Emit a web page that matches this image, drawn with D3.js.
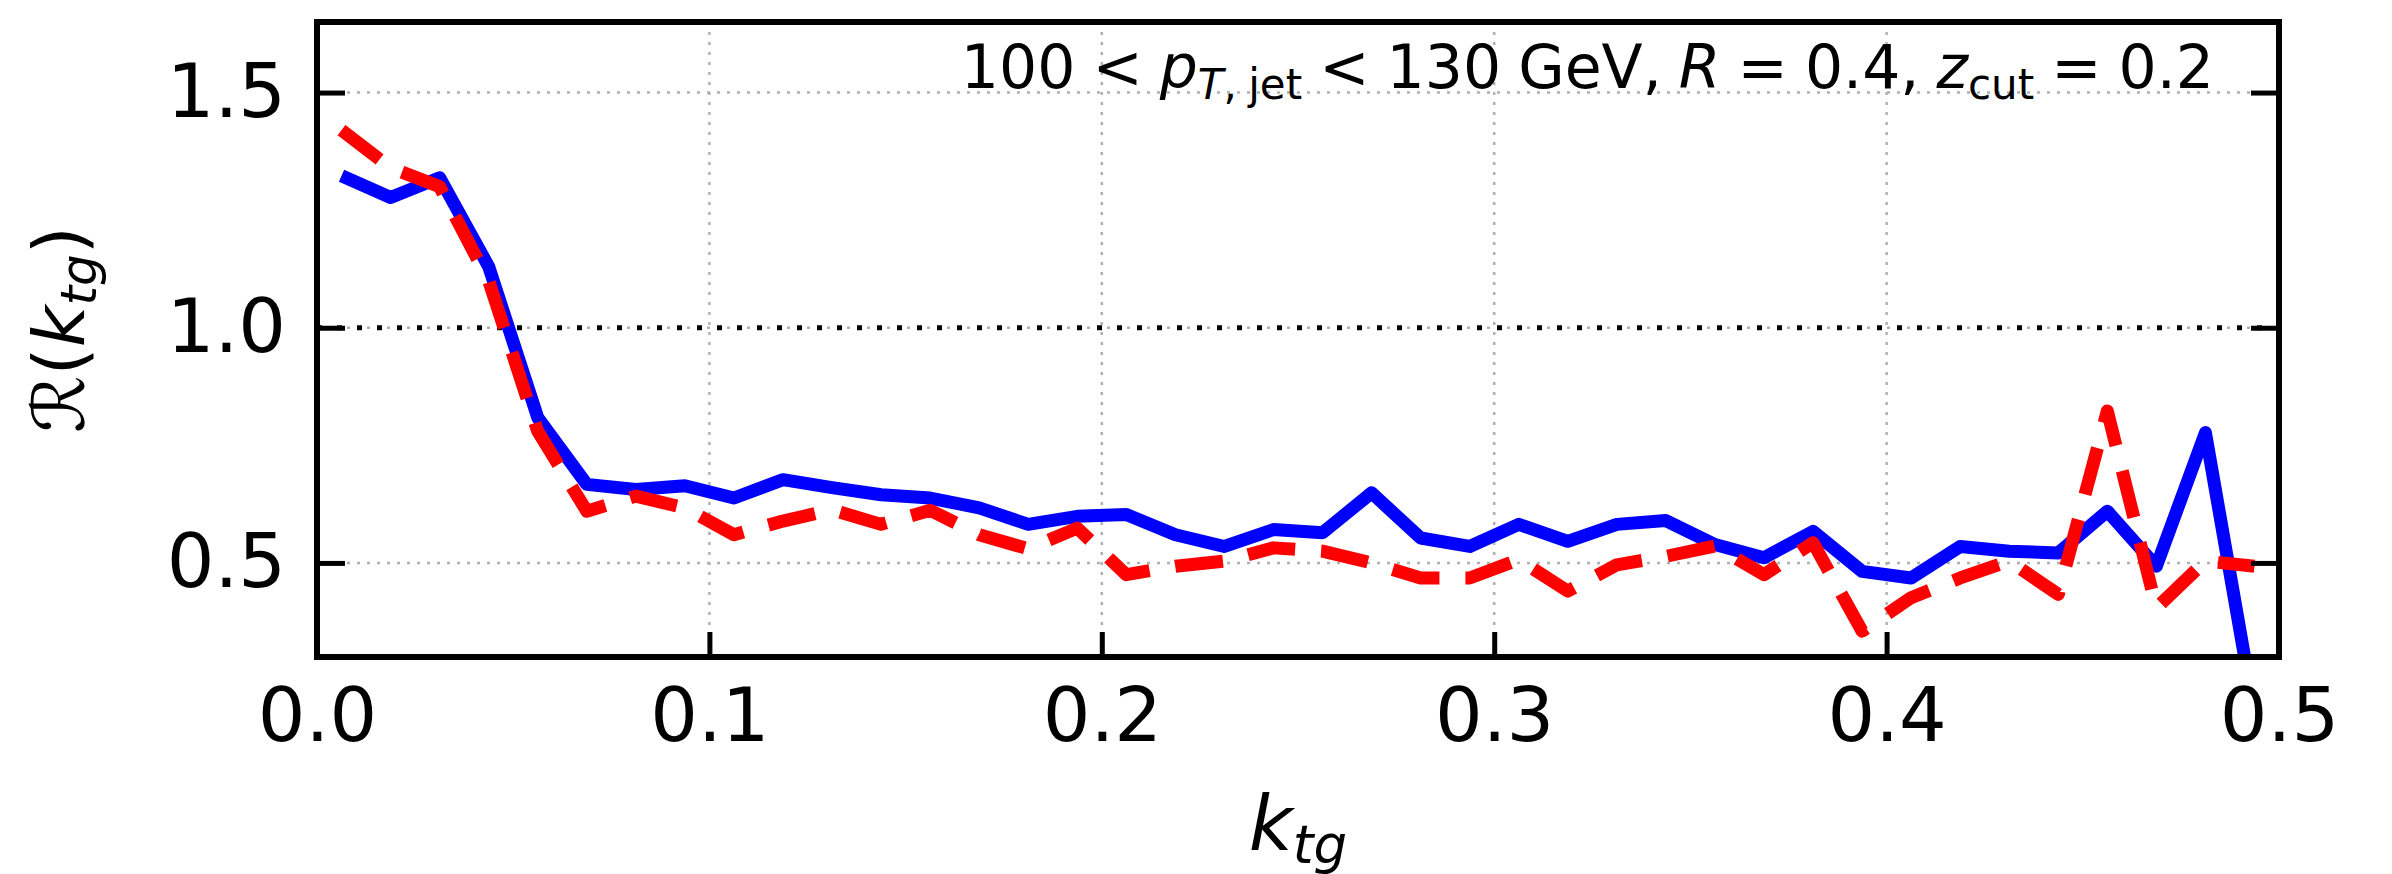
<!DOCTYPE html>
<html>
<head>
<meta charset="utf-8">
<script src="https://cdn.jsdelivr.net/npm/d3@7"></script>
<style>
  body { margin: 0; background: #fff; }
  text { font-family: "DejaVu Sans", sans-serif; fill: #000; }
</style>
</head>
<body>
<div id="chart-area"></div>
<script>
// bin centres of k_tg
const binCenters = [
  0.00625, 0.01875, 0.03125, 0.04375, 0.05625, 0.06875, 0.08125, 0.09375,
  0.10625, 0.11875, 0.13125, 0.14375, 0.15625, 0.16875, 0.18125, 0.19375,
  0.20625, 0.21875, 0.23125, 0.24375, 0.25625, 0.26875, 0.28125, 0.29375,
  0.30625, 0.31875, 0.33125, 0.34375, 0.35625, 0.36875, 0.38125, 0.39375,
  0.40625, 0.41875, 0.43125, 0.44375, 0.45625, 0.46875, 0.48125, 0.49375
];

// blue solid curve
const blueValues = [
  1.323, 1.277, 1.319, 1.13, 0.809, 0.667, 0.656, 0.664,
  0.638, 0.677, 0.660, 0.645, 0.638, 0.617, 0.582, 0.599,
  0.603, 0.560, 0.535, 0.571, 0.564, 0.649, 0.553, 0.535,
  0.582, 0.546, 0.582, 0.590, 0.539, 0.511, 0.567, 0.482,
  0.468, 0.535, 0.525, 0.521, 0.610, 0.493, 0.777, 0.18
];

// red dashed curve
const redValues = [
  1.42, 1.34, 1.30, 1.10, 0.78, 0.61, 0.642, 0.617,
  0.560, 0.589, 0.613, 0.582, 0.612, 0.560, 0.530, 0.574,
  0.475, 0.493, 0.504, 0.532, 0.525, 0.500, 0.468, 0.468,
  0.507, 0.440, 0.496, 0.514, 0.536, 0.475, 0.543, 0.355,
  0.426, 0.468, 0.504, 0.433, 0.823, 0.404, 0.504, 0.493
];

const xTicks = [0.0, 0.1, 0.2, 0.3, 0.4, 0.5];
const yTicks = [0.5, 1.0, 1.5];
const xDomain = [0, 0.5];
const yDomain = [0.3, 1.65];

let margin = { top: 22, right: 113, bottom: 217, left: 317 };
let width = 2392 - margin.left - margin.right,
  height = 874 - margin.top - margin.bottom;

let svg = d3
  .select("#chart-area")
  .append("svg")
  .attr("width", 2392)
  .attr("height", 874)
  .append("g")
  .attr("transform", "translate(" + margin.left + "," + margin.top + ")");

let x = d3.scaleLinear().domain(xDomain).range([0, width]);
let y = d3.scaleLinear().domain(yDomain).range([height, 0]);

svg.append("clipPath").attr("id", "plot-clip")
  .append("rect").attr("width", width).attr("height", height);

// grid
svg.append("g")
  .selectAll("line")
  .data(xTicks.slice(1, -1))
  .enter()
  .append("line")
  .attr("x1", d => x(d)).attr("x2", d => x(d))
  .attr("y1", 0).attr("y2", height)
  .attr("stroke", "#b0b0b0").attr("stroke-width", 2.5)
  .attr("stroke-dasharray", "3,7");

svg.append("g")
  .selectAll("line")
  .data(yTicks)
  .enter()
  .append("line")
  .attr("x1", 0).attr("x2", width)
  .attr("y1", d => y(d)).attr("y2", d => y(d))
  .attr("stroke", "#b0b0b0").attr("stroke-width", 2.5)
  .attr("stroke-dasharray", "3,7");

// unity reference
svg.append("line")
  .attr("x1", 0).attr("x2", width)
  .attr("y1", y(1)).attr("y2", y(1))
  .attr("stroke", "#000").attr("stroke-width", 5)
  .attr("stroke-dasharray", "5,15");

let line = d3.line()
  .x((d, i) => x(binCenters[i]))
  .y(d => y(d));

let curves = svg.append("g").attr("clip-path", "url(#plot-clip)");

curves.append("path")
  .datum(blueValues)
  .attr("d", line)
  .attr("fill", "none")
  .attr("stroke", "#0000ff")
  .attr("stroke-width", 13)
  .attr("stroke-linejoin", "round");

curves.append("path")
  .datum(redValues)
  .attr("d", line)
  .attr("fill", "none")
  .attr("stroke", "#ff0000")
  .attr("stroke-width", 13)
  .attr("stroke-linejoin", "round")
  .attr("stroke-dasharray", "48,26");

// axes, ticks pointing inwards
let xAxis = d3.axisBottom(x)
  .tickValues(xTicks)
  .tickSizeInner(-25)
  .tickSizeOuter(0)
  .tickPadding(31)
  .tickFormat(d3.format(".1f"));

let yAxis = d3.axisLeft(y)
  .tickValues(yTicks)
  .tickSizeInner(-28)
  .tickSizeOuter(0)
  .tickPadding(31)
  .tickFormat(d3.format(".1f"));

let yAxisRight = d3.axisRight(y)
  .tickValues(yTicks)
  .tickSizeInner(-28)
  .tickSizeOuter(0)
  .tickFormat("");

svg.append("g")
  .attr("transform", "translate(0," + height + ")")
  .call(xAxis)
  .call(g => g.select(".domain").remove());

svg.append("g").call(yAxis).call(g => g.select(".domain").remove());

svg.append("g")
  .attr("transform", "translate(" + width + ",0)")
  .call(yAxisRight)
  .call(g => g.select(".domain").remove());

svg.selectAll(".tick line").attr("stroke", "#000").attr("stroke-width", 5);
svg.selectAll(".tick text")
  .style("font-family", "DejaVu Sans")
  .style("font-size", "75px");

// frame
svg.append("rect")
  .attr("width", width).attr("height", height)
  .attr("fill", "none").attr("stroke", "#000").attr("stroke-width", 6);

// annotation
let note = svg.append("text")
  .attr("x", 1897)
  .attr("y", 66)
  .attr("text-anchor", "end")
  .style("font-size", "60px")
  .style("word-spacing", "-2px");
note.append("tspan").text("100 < ");
note.append("tspan").style("font-style", "italic").text("p");
note.append("tspan").style("font-style", "italic").style("font-size", "42px")
  .attr("dy", 11).text("T");
note.append("tspan").style("font-size", "42px").text(", jet");
note.append("tspan").attr("dy", -11).text(" < 130 GeV, ");
note.append("tspan").style("font-style", "italic").text("R");
note.append("tspan").text(" = 0.4, ");
note.append("tspan").style("font-style", "italic").text("z");
note.append("tspan").style("font-size", "42px").attr("dy", 11).text("cut");
note.append("tspan").attr("dy", -11).text(" = 0.2");

// axis labels
let xLabel = svg.append("text")
  .attr("x", width / 2)
  .attr("y", height + 193)
  .attr("text-anchor", "middle")
  .style("font-size", "76px");
xLabel.append("tspan").style("font-style", "italic").text("k");
xLabel.append("tspan").style("font-style", "italic").style("font-size", "53px")
  .attr("dy", 13).text("tg");

let yLabel = svg.append("text")
  .attr("transform", "translate(" + (84 - margin.left) + "," + (height / 2 - 10) + ") rotate(-90)")
  .attr("text-anchor", "middle")
  .style("font-size", "72px");
yLabel.append("tspan").text("ℛ(");
yLabel.append("tspan").style("font-style", "italic").text("k");
yLabel.append("tspan").style("font-style", "italic").style("font-size", "50px")
  .attr("dy", 12).text("tg");
yLabel.append("tspan").attr("dy", -12).text(")");
</script>
</body>
</html>
